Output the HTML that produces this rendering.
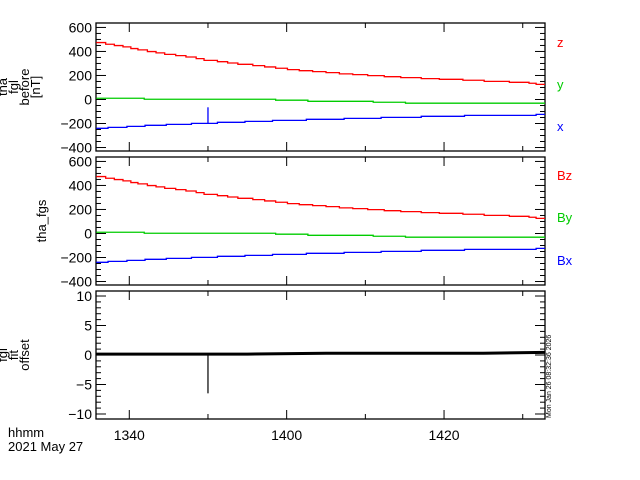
<!DOCTYPE html>
<html><head><meta charset="utf-8"><style>
html,body{margin:0;padding:0;background:#fff;}
svg{display:block;font-family:"Liberation Sans",sans-serif;}
</style></head><body>
<svg id="chart" width="640" height="480" viewBox="0 0 640 480">
<rect width="640" height="480" fill="#fff"/>
<g id="g"></g>
<g font-size="13" fill="#000">
<text transform="translate(20,87) rotate(-90)" text-anchor="middle"><tspan x="0" dy="-13">tha</tspan><tspan x="0" dy="11">fgl</tspan><tspan x="0" dy="11">before</tspan><tspan x="0" dy="11">[nT]</tspan></text>
<text transform="translate(46,221) rotate(-90)" text-anchor="middle">tha_fgs</text>
<text transform="translate(20,355) rotate(-90)" text-anchor="middle"><tspan x="0" dy="-13">fgl</tspan><tspan x="0" dy="11">fit</tspan><tspan x="0" dy="11">offset</tspan></text>
<text x="557" y="47" fill="#f00">z</text>
<text x="557" y="89" fill="#0c0">y</text>
<text x="557" y="131" fill="#00f">x</text>
<text x="557" y="180" fill="#f00">Bz</text>
<text x="557" y="222" fill="#0c0">By</text>
<text x="557" y="265" fill="#00f">Bx</text>
<text x="8" y="437">hhmm</text>
<text x="8" y="451">2021 May 27</text>
<text font-size="7" transform="translate(551,418) rotate(-90)">Mon Jan 26 08:32:36 2026</text>
</g>
</svg>
<script>
// data (time in minutes since midnight)
const redT=[815.8,817.0,818.1,819.2,820.2,821.1,822.3,823.4,824.5,825.9,827.2,828.5,829.5,831.2,832.5,833.8,835.7,837.2,838.6,840.1,841.6,843.3,845.0,846.7,848.4,850.3,852.4,854.5,857.1,859.4,862.4,865.1,868.3,870.8,871.7];
const redV=[474,460,449,438,424,413,399,388,376,365,354,340,326,315,304,293,282,271,260,249,240,232,224,213,207,199,190,182,174,168,160,151,143,135,126];
const grnT=[815.8,821.9,838.6,842.7,851.0,855.1];
const grnV=[10,2,-6,-15,-23,-31];
const bluT=[815.8,817.3,819.7,822.0,824.7,827.9,831.2,834.7,838.2,842.5,847.3,852.0,857.1,862.6,871.7];
const bluV=[-240,-232,-224,-215,-207,-199,-190,-182,-174,-165,-157,-149,-140,-132,-124];
const spikeT=[830.0];
const spikeV=[-65];
const offT=[815.8,825,835,845,855,865,872.8];
const offV=[0.15,0.15,0.15,0.3,0.3,0.3,0.45];
const offSpikeT=[830.0];
const offSpikeV=[-6.5];
const xTickVals=[820,830,840,850,860,870];
const xTickLabels=["1340","","1400","","1420",""];
const bTickVals=[600,400,200,0,-200,-400];
const oTickVals=[10,5,0,-5,-10];

const NS="http://www.w3.org/2000/svg";
const g=document.getElementById('g');
const X0=96,X1=545,TMIN=815.77,TMAX=872.83;
const xs=t=>X0+(t-TMIN)/(TMAX-TMIN)*(X1-X0);
function mk(tag,attrs){const e=document.createElementNS(NS,tag);for(const k in attrs)e.setAttribute(k,attrs[k]);g.appendChild(e);return e;}
const panels=[
 {top:23,bot:151,min:-429,max:637,name:'panel1'},
 {top:157,bot:285,min:-429,max:637,name:'panel2'},
 {top:291,bot:419,min:-10.85,max:10.85,name:'panel3'}];
function yf(p){return v=>p.bot-(v-p.min)/(p.max-p.min)*(p.bot-p.top);}
function step(T,V,y,color,name){
 let d='';
 for(let i=0;i<T.length;i++){
  const x=xs(T[i]),yy=y(V[i]);
  d+=(i?'L'+x+' '+yy:'M'+x+' '+yy);
  const xn=i<T.length-1?xs(T[i+1]):X1;
  d+='L'+xn+' '+yy;
 }
 const e=mk('path',{d:d,fill:'none',stroke:color,'stroke-width':1.3});
 
 
}
panels.forEach((p,pi)=>{
 const y=yf(p);
 const fr=mk('rect',{x:X0,y:p.top,width:X1-X0,height:p.bot-p.top,fill:'none',stroke:'#000','stroke-width':1.3});
 
 
 xTickVals.forEach((t,i)=>{
  const x=xs(t),L=xTickLabels[i]?9:5;
  mk('line',{x1:x,x2:x,y1:p.bot,y2:p.bot-L,stroke:'#000'});
  mk('line',{x1:x,x2:x,y1:p.top,y2:p.top+L,stroke:'#000'});
  if(pi===2&&xTickLabels[i]){
   const tx=mk('text',{x:x,y:440,'text-anchor':'middle','font-size':14});
   tx.textContent=xTickLabels[i];
   
   
  }
 });
 const majors=pi<2?bTickVals:oTickVals;
 const minStep=pi<2?50:1;
 for(let v=Math.ceil(p.min/minStep)*minStep;v<=p.max;v+=minStep){
  const yy=y(v),isMaj=majors.includes(v),L=isMaj?10:5;
  mk('line',{x1:X0,x2:X0+L,y1:yy,y2:yy,stroke:'#000'});
  mk('line',{x1:X1,x2:X1-L,y1:yy,y2:yy,stroke:'#000'});
 }
 majors.forEach(v=>{
  const tx=mk('text',{x:X0-4,y:y(v)+5,'text-anchor':'end','font-size':14});
  tx.textContent=v<0?'\u2212'+(-v):String(v);
  
  
 });
 if(pi<2){
  step(redT,redV,y,'#f00',p.name+'-z-line');
  step(grnT,grnV,y,'#0c0',p.name+'-y-line');
  step(bluT,bluV,y,'#00f',p.name+'-x-line');
  if(pi===0){
   spikeT.forEach((t,i)=>{
    const idx=bluT.findIndex((tt,j)=>t>=tt&&(j===bluT.length-1||t<bluT[j+1]));
    const s=mk('line',{x1:xs(t),x2:xs(t),y1:y(bluV[idx]),y2:y(spikeV[i]),stroke:'#00f','stroke-width':1.3});
    
    
   });
  }
 } else {
  let d='';
  offT.forEach((t,i)=>{d+=(i?'L':'M')+xs(t)+' '+y(offV[i]);});
  const o=mk('path',{d:d,fill:'none',stroke:'#000','stroke-width':3});
  
  
  offSpikeT.forEach((t,i)=>{
   const s=mk('line',{x1:xs(t),x2:xs(t),y1:y(0.15),y2:y(offSpikeV[i]),stroke:'#000','stroke-width':1.2});
   
   
  });
 }
});
</script>
</body></html>
